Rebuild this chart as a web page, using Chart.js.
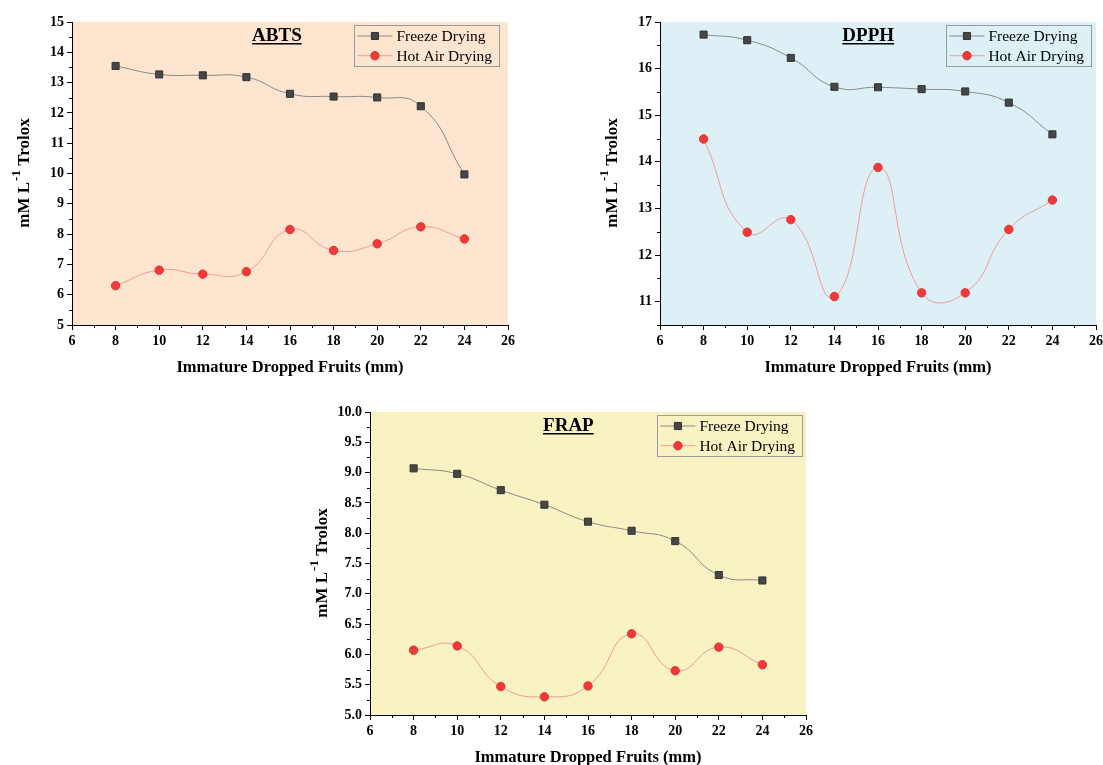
<!DOCTYPE html>
<html>
<head>
<meta charset="utf-8">
<script src="https://cdn.jsdelivr.net/npm/chart.js@4.4.0/dist/chart.umd.min.js"></script>
<style>
html, body { margin:0; padding:0; background:#fff; overflow:hidden; width:1103px; height:765px; }
.panel { position:absolute; width:515px; height:380px; }
</style>
</head>
<body>
<div class="panel" style="left:0px;top:0px"><canvas id="abts" width="515" height="380"></canvas></div>
<div class="panel" style="left:588px;top:0px"><canvas id="dpph" width="515" height="380"></canvas></div>
<div class="panel" style="left:298px;top:390px"><canvas id="frap" width="515" height="380"></canvas></div>
<script>
// fruit size (mm)
const sizes = [8, 10, 12, 14, 16, 18, 20, 22, 24];
const xTicks = [6, 8, 10, 12, 14, 16, 18, 20, 22, 24, 26];

const seriesNames = ['Freeze Drying', 'Hot Air Drying'];

const abtsFreeze = [13.55, 13.27, 13.24, 13.18, 12.63, 12.54, 12.51, 12.22, 9.97];
const abtsHotAir = [6.30, 6.81, 6.68, 6.76, 8.15, 7.46, 7.68, 8.24, 7.84];
const abtsYTicks = [5, 6, 7, 8, 9, 10, 11, 12, 13, 14, 15];

const dpphFreeze = [16.73, 16.61, 16.23, 15.61, 15.60, 15.56, 15.51, 15.27, 14.59];
const dpphHotAir = [14.49, 12.49, 12.76, 11.11, 13.88, 11.19, 11.19, 12.55, 13.18];
const dpphYTicks = [11, 12, 13, 14, 15, 16, 17];

const frapFreeze = [9.07, 8.98, 8.71, 8.47, 8.19, 8.04, 7.87, 7.31, 7.22];
const frapHotAir = [6.07, 6.14, 5.47, 5.30, 5.48, 6.34, 5.73, 6.12, 5.83];
const frapYTicks = [5.0, 5.5, 6.0, 6.5, 7.0, 7.5, 8.0, 8.5, 9.0, 9.5, 10.0];

const SERIF = '"Liberation Serif", "Times New Roman", serif';

function minorOf(ticks, lo, hi) {
  const step = ticks[1] - ticks[0];
  const out = [];
  for (let v = ticks[0] - step / 2; v <= hi + 1e-9; v += step) {
    if (v >= lo - 1e-9) out.push(v);
  }
  return out;
}

const panelPlugin = {
  id: 'panelDeco',
  beforeDraw(chart, args, opts) {
    const a = chart.chartArea, ctx = chart.ctx;
    ctx.save();
    ctx.fillStyle = opts.bg;
    ctx.fillRect(a.left, a.top, a.right - a.left, a.bottom - a.top);
    ctx.restore();
  },
  afterDraw(chart, args, opts) {
    const a = chart.chartArea, ctx = chart.ctx;
    const xs = chart.scales.x, ys = chart.scales.y;
    ctx.save();
    // minor ticks
    ctx.strokeStyle = '#000';
    ctx.lineWidth = 1;
    ctx.beginPath();
    opts.xMinor.forEach(v => {
      const p = Math.round(xs.getPixelForValue(v)) + 0.5;
      ctx.moveTo(p, a.bottom); ctx.lineTo(p, a.bottom + 3);
    });
    opts.yMinor.forEach(v => {
      const p = Math.round(ys.getPixelForValue(v)) + 0.5;
      ctx.moveTo(a.left, p); ctx.lineTo(a.left - 3, p);
    });
    ctx.stroke();

    // panel title (underlined)
    ctx.font = 'bold 19px ' + SERIF;
    ctx.fillStyle = '#000';
    ctx.textAlign = 'center';
    ctx.textBaseline = 'alphabetic';
    const tx = xs.getPixelForValue(opts.titleAt);
    const ty = a.top + 19;
    ctx.fillText(opts.title, tx, ty);
    const tw = ctx.measureText(opts.title).width;
    ctx.fillRect(tx - tw / 2, ty + 2, tw, 1.5);

    // y axis title with superscript
    ctx.translate(22.5, (a.top + a.bottom) / 2);
    ctx.rotate(-Math.PI / 2);
    const f1 = 'bold 17px ' + SERIF, f2 = 'bold 13px ' + SERIF;
    ctx.font = f1; const w1 = ctx.measureText('mM L').width; const w3 = ctx.measureText(' Trolox').width;
    ctx.font = f2; const w2 = ctx.measureText('-1').width;
    let sx = -(w1 + w2 + w3) / 2;
    ctx.textAlign = 'left';
    ctx.font = f1; ctx.fillText('mM L', sx, 6); sx += w1;
    ctx.font = f2; ctx.fillText('-1', sx + 1, -3); sx += w2 + 1;
    ctx.font = f1; ctx.fillText(' Trolox', sx, 6);
    ctx.restore();

    // legend box inside plot area
    ctx.save();
    ctx.font = '15.5px ' + SERIF;
    const textW = Math.max(...chart.data.datasets.map(d => ctx.measureText(d.label).width));
    const bw = 3 + 35 + 4 + textW + 7, bh = 41;
    const bx = a.right - opts.legendRight - bw, by = a.top + 3;
    ctx.strokeStyle = '#9a9a9a';
    ctx.lineWidth = 1;
    ctx.strokeRect(Math.round(bx) + 0.5, Math.round(by) + 0.5, Math.round(bw), bh);
    chart.data.datasets.forEach((d, i) => {
      const cy = by + 11 + i * 19.7;
      ctx.strokeStyle = d.borderColor;
      ctx.beginPath();
      ctx.moveTo(bx + 3, cy); ctx.lineTo(bx + 38, cy);
      ctx.stroke();
      ctx.fillStyle = d.pointBackgroundColor;
      ctx.strokeStyle = d.pointBorderColor;
      Chart.helpers.drawPoint(ctx, {pointStyle: d.pointStyle, radius: d.pointRadius, rotation: 0, borderWidth: 1}, bx + 20.5, cy);
      ctx.fillStyle = '#000';
      ctx.textBaseline = 'middle';
      ctx.textAlign = 'left';
      ctx.fillText(d.label, bx + 42, cy + 1);
    });
    ctx.restore();
  }
};

function makeChart(id, freeze, hot, yTicks, yMin, yMax, bg, title, titleAt, legendRight, decimals) {
  const ctx = document.getElementById(id);
  return new Chart(ctx, {
    type: 'line',
    data: {
      datasets: [
        {
          label: seriesNames[0],
          data: sizes.map((s, i) => ({x: s, y: freeze[i]})),
          borderColor: '#8a8a8a',
          borderWidth: 1,
          pointStyle: 'rect',
          pointRadius: 5,
          pointBackgroundColor: '#464646',
          pointBorderColor: '#333333',
          pointBorderWidth: 1,
          tension: 0.5
        },
        {
          label: seriesNames[1],
          data: sizes.map((s, i) => ({x: s, y: hot[i]})),
          borderColor: '#f19a9a',
          borderWidth: 1,
          pointStyle: 'circle',
          pointRadius: 4.2,
          pointBackgroundColor: '#f03a3a',
          pointBorderColor: '#e53030',
          pointBorderWidth: 1,
          tension: 0.5
        }
      ]
    },
    options: {
      responsive: false,
      devicePixelRatio: 1,
      animation: false,
      layout: {padding: {top: 22, right: 7, left: 0, bottom: 0}},
      scales: {
        x: {
          type: 'linear',
          min: 6, max: 26,
          afterBuildTicks: s => { s.ticks = xTicks.map(v => ({value: v})); },
          afterFit: s => { s.height = 55; s.paddingRight = 2; s.paddingLeft = 2; },
          ticks: {font: {family: SERIF, size: 14, weight: 'bold'}, color: '#000', padding: 3, maxRotation: 0, autoSkip: false},
          grid: {drawOnChartArea: false, drawTicks: true, tickLength: 5, color: '#000', lineWidth: 1},
          border: {display: true, color: '#000', width: 1},
          title: {display: true, text: 'Immature Dropped Fruits (mm)', color: '#000',
                  font: {family: SERIF, size: 16.5, weight: 'bold'}, padding: {top: 0, bottom: 2}}
        },
        y: {
          min: yMin, max: yMax,
          afterBuildTicks: s => { s.ticks = yTicks.map(v => ({value: v})); },
          afterFit: s => { s.width = 72; s.paddingTop = 2; s.paddingBottom = 2; },
          ticks: {font: {family: SERIF, size: 14, weight: 'bold'}, color: '#000', padding: 3,
                  callback: v => v.toFixed(decimals)},
          grid: {drawOnChartArea: false, drawTicks: true, tickLength: 5, color: '#000', lineWidth: 1},
          border: {display: true, color: '#000', width: 1}
        }
      },
      plugins: {
        legend: {display: false},
        tooltip: {enabled: false},
        panelDeco: {
          bg: bg, title: title, titleAt: titleAt, legendRight: legendRight,
          xMinor: minorOf(xTicks, 6, 26),
          yMinor: minorOf(yTicks, yMin, yMax)
        }
      }
    },
    plugins: [panelPlugin]
  });
}

makeChart('abts', abtsFreeze, abtsHotAir, abtsYTicks, 5, 15, '#fde5cf', 'ABTS', 15.4, 9, 0);
makeChart('dpph', dpphFreeze, dpphHotAir, dpphYTicks, 10.5, 17, '#dcf0f6', 'DPPH', 15.55, 5, 0);
makeChart('frap', frapFreeze, frapHotAir, frapYTicks, 5, 10, '#f9f2c2', 'FRAP', 15.1, 4, 1);
</script>
</body>
</html>
